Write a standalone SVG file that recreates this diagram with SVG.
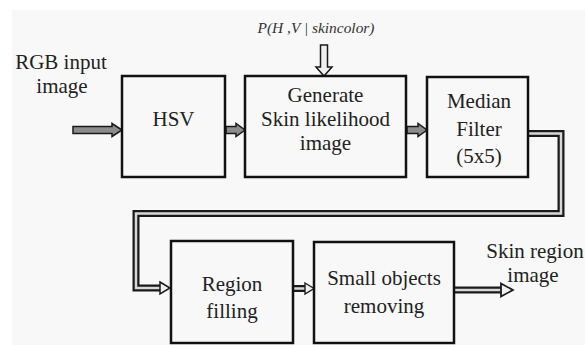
<svg xmlns="http://www.w3.org/2000/svg" width="585" height="345" viewBox="0 0 585 345">
<defs>
  <path id="blockArrow" d="M0,-3.5 H-10 V-6.5 L0,0 L-10,6.5 V3.5 Z" transform="translate(0,0)"/>
  <path id="headR" d="M-10,-6 L0,0 L-10,6 Z"/>
</defs>
<rect x="0" y="0" width="585" height="345" fill="#ffffff"/>
<rect x="12" y="10" width="573" height="335" fill="#f8f8f8"/>

<g id="connectors" stroke="#1a1a1a" stroke-linejoin="miter">
  <g fill="#8c8c8c" stroke-width="1.5">
    <path d="M73,126.5 H112 V123.5 L122,130 L112,136.5 V133.5 H73 Z"/>
    <path d="M226,126.5 H236 V123.5 L245,130 L236,136.5 V133.5 H226 Z"/>
    <path d="M407,126.5 H418 V123.5 L427,130 L418,136.5 V133.5 H407 Z"/>
  </g>
  <g fill="none" stroke-width="7">
    <path d="M529,133.5 H561 V213.5 H136 V288 H162"/>
    <path d="M294,288.5 H306"/>
    <path d="M455,290 H503"/>
  </g>
  <g fill="none" stroke="#d8d8d8" stroke-width="2.5">
    <path d="M529,133.5 H561 V213.5 H136 V288 H163"/>
    <path d="M294,288.5 H307"/>
    <path d="M455,290 H504"/>
  </g>
  <g fill="#f0f0f0" stroke-width="1.5">
    <path d="M320.5,45 H327.5 V67 H332 L324,76 L316,67 H320.5 Z"/>
    <use href="#headR" transform="translate(170,288)"/>
    <use href="#headR" transform="translate(314,288.5) scale(0.9,0.92)"/>
    <use href="#headR" transform="translate(513,290) scale(1.2,1.08)"/>
  </g>
</g>

<g font-family="Liberation Serif, serif" font-size="21" fill="#222" text-anchor="middle">
<g id="input-label">
  <text x="61" y="69">RGB input</text>
  <text x="62" y="93">image</text>
</g>

<g id="prior-label">
  <text x="316" y="33" font-size="14" font-style="italic" fill="#333" textLength="117" lengthAdjust="spacingAndGlyphs">P(H ,V | skincolor)</text>
</g>

<g id="hsv">
  <rect x="122" y="76" width="103" height="101" fill="#f8f8f8" stroke="#111" stroke-width="2.5"/>
  <text x="173.5" y="126">HSV</text>
</g>

<g id="generate">
  <rect x="245" y="76" width="161" height="101" fill="#f8f8f8" stroke="#111" stroke-width="2.5"/>
  <text x="325.5" y="102">Generate</text>
  <text x="325.5" y="126">Skin likelihood</text>
  <text x="325.5" y="150">image</text>
</g>

<g id="median">
  <rect x="427" y="77" width="101" height="100" fill="#f8f8f8" stroke="#111" stroke-width="2.5"/>
  <text x="479" y="108">Median</text>
  <text x="479" y="136">Filter</text>
  <text x="479" y="163">(5x5)</text>
</g>

<g id="region-filling">
  <rect x="171" y="241" width="122" height="102" fill="#f8f8f8" stroke="#111" stroke-width="2.5"/>
  <text x="232" y="291">Region</text>
  <text x="232" y="318">filling</text>
</g>

<g id="small-objects">
  <rect x="314" y="242" width="140" height="101" fill="#f8f8f8" stroke="#111" stroke-width="2.5"/>
  <text x="384" y="285">Small objects</text>
  <text x="384" y="313">removing</text>
</g>

<g id="output-label">
  <text x="535" y="258">Skin region</text>
  <text x="533" y="282">image</text>
</g>
</g>
</svg>
